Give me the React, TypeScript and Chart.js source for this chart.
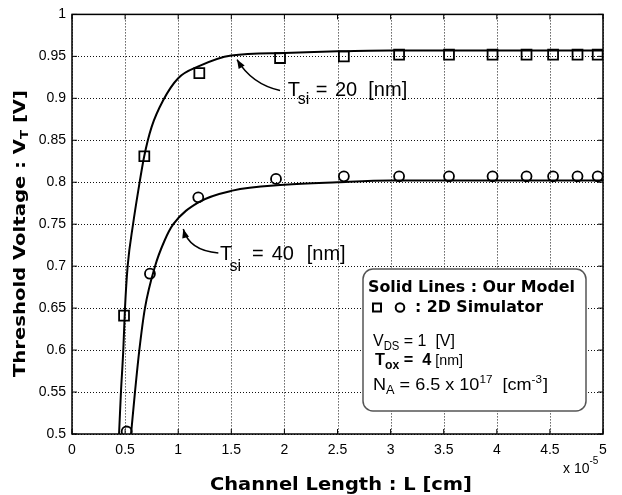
import React, { useEffect, useRef } from "react";
import { Chart, registerables } from "chart.js";
Chart.register(...registerables);

// ---- data ----
const xTicks = [0, 0.5, 1, 1.5, 2, 2.5, 3, 3.5, 4, 4.5, 5];
const yTicks = [0.5, 0.55, 0.6, 0.65, 0.7, 0.75, 0.8, 0.85, 0.9, 0.95, 1];

// Model curves (Solid lines : Our Model), L in 1e-5 cm
const modelL20 = [0.443, 0.461, 0.483, 0.499, 0.524, 0.575, 0.624, 0.68, 0.75, 0.86, 1.0, 1.19, 1.5, 2.0, 2.5, 3.0, 4.0, 5.0];
const modelVt20 = [0.5, 0.55, 0.6, 0.65, 0.7, 0.75, 0.79, 0.831, 0.866, 0.898, 0.924, 0.938, 0.951, 0.954, 0.956, 0.957, 0.957, 0.957];
const modelL40 = [0.556, 0.593, 0.634, 0.687, 0.782, 0.87, 0.954, 1.19, 1.51, 2.0, 2.5, 3.0, 4.0, 5.0];
const modelVt40 = [0.5, 0.55, 0.6, 0.65, 0.7, 0.73, 0.75, 0.776, 0.79, 0.797, 0.8, 0.802, 0.802, 0.802];

// 2D simulator points
const simL20 = [0.49, 0.681, 1.199, 1.959, 2.56, 3.08, 3.55, 3.96, 4.28, 4.53, 4.76, 4.95];
const simVt20 = [0.641, 0.831, 0.93, 0.948, 0.95, 0.952, 0.952, 0.952, 0.952, 0.952, 0.952, 0.952];
const simL40 = [0.515, 0.734, 1.189, 1.921, 2.56, 3.08, 3.55, 3.96, 4.28, 4.53, 4.76, 4.95];
const simVt40 = [0.503, 0.691, 0.782, 0.804, 0.807, 0.807, 0.807, 0.807, 0.807, 0.807, 0.807, 0.807];

const SANS = "'Liberation Sans', Arial, sans-serif";
const HEAVY = "'DejaVu Sans', sans-serif";

type Run = { t: string; f: string; dy?: number; dx?: number };

function runsWidth(ctx: CanvasRenderingContext2D, runs: Run[]) {
  let w = 0;
  for (const r of runs) {
    ctx.font = r.f;
    w += ctx.measureText(r.t).width + (r.dx || 0);
  }
  return w;
}

function drawRuns(ctx: CanvasRenderingContext2D, runs: Run[], x: number, y: number, fitWidth?: number) {
  const w = runsWidth(ctx, runs);
  const sx = fitWidth ? fitWidth / w : 1;
  ctx.save();
  ctx.translate(x, y);
  ctx.scale(sx, 1);
  let cx = 0;
  for (const r of runs) {
    ctx.font = r.f;
    cx += r.dx || 0;
    ctx.fillText(r.t, cx, r.dy || 0);
    cx += ctx.measureText(r.t).width;
  }
  ctx.restore();
}

function arrow(ctx: CanvasRenderingContext2D, sx: number, sy: number, cx: number, cy: number, ex: number, ey: number) {
  ctx.beginPath();
  ctx.moveTo(sx, sy);
  ctx.quadraticCurveTo(cx, cy, ex, ey);
  ctx.stroke();
  const a = Math.atan2(ey - cy, ex - cx);
  const L = 9, W = 3.5;
  const c = Math.cos(a), s = Math.sin(a);
  ctx.beginPath();
  ctx.moveTo(ex, ey);
  ctx.lineTo(ex - L * c + W * s, ey - L * s - W * c);
  ctx.lineTo(ex - L * c - W * s, ey - L * s + W * c);
  ctx.closePath();
  ctx.fill();
}

const gridPlugin = {
  id: "dotgrid",
  beforeDatasetsDraw(chart: any) {
    const ctx: CanvasRenderingContext2D = chart.ctx;
    const { left, right, top, bottom } = chart.chartArea;
    const xs = chart.scales.x;
    const ys = chart.scales.y;
    ctx.save();
    ctx.strokeStyle = "#111";
    ctx.lineWidth = 1;
    ctx.setLineDash([1, 2]);
    for (const v of xTicks) {
      const x = Math.round(xs.getPixelForValue(v)) + 0.5;
      ctx.beginPath();
      ctx.moveTo(x, top);
      ctx.lineTo(x, bottom);
      ctx.stroke();
    }
    for (const v of yTicks) {
      const y = Math.round(ys.getPixelForValue(v)) + 0.5;
      ctx.beginPath();
      ctx.moveTo(left, y);
      ctx.lineTo(right, y);
      ctx.stroke();
    }
    ctx.restore();
  },
};

const decorPlugin = {
  id: "decor",
  afterDraw(chart: any) {
    const ctx: CanvasRenderingContext2D = chart.ctx;
    const { left, right, top, bottom } = chart.chartArea;
    const xs = chart.scales.x;
    const ys = chart.scales.y;
    const px = (v: number) => xs.getPixelForValue(v);
    const py = (v: number) => ys.getPixelForValue(v);
    ctx.save();
    ctx.fillStyle = "#000";
    ctx.strokeStyle = "#000";

    // frame
    ctx.lineWidth = 1.5;
    ctx.strokeRect(left, top, right - left, bottom - top);
    // inward ticks
    ctx.lineWidth = 1;
    ctx.beginPath();
    for (const v of xTicks) {
      const x = px(v);
      ctx.moveTo(x, bottom); ctx.lineTo(x, bottom - 5);
      ctx.moveTo(x, top); ctx.lineTo(x, top + 5);
    }
    for (const v of yTicks) {
      const y = py(v);
      ctx.moveTo(left, y); ctx.lineTo(left + 5, y);
      ctx.moveTo(right, y); ctx.lineTo(right - 5, y);
    }
    ctx.stroke();

    // arrows
    ctx.lineWidth = 1.5;
    arrow(ctx, px(1.959), py(0.9094), px(1.692), py(0.917), px(1.554), py(0.9462));
    arrow(ctx, px(1.378), py(0.7158), px(1.103), py(0.7185), px(1.048), py(0.7443));

    // curve labels
    ctx.textBaseline = "alphabetic";
    ctx.textAlign = "left";
    const lab = (x: number, y: number, num: string, o: number[], subDy: number) => {
      ctx.font = `20px ${SANS}`;
      ctx.fillText("T", x, y);
      ctx.font = `16px ${SANS}`;
      ctx.fillText("si", x + o[0], y + subDy);
      ctx.font = `20px ${SANS}`;
      ctx.fillText("=", x + o[1], y);
      ctx.fillText(num, x + o[2], y);
      ctx.fillText("[nm]", x + o[3], y);
    };
    lab(px(2.031), py(0.9026), "20", [10, 28, 47.3, 80.6], 8);
    lab(px(1.394), py(0.7075), "40", [9.5, 32, 51.7, 86.7], 11);

    // legend box
    const bx = 363, by = 269, bw = 223, bh = 142;
    ctx.beginPath();
    (ctx as any).roundRect(bx, by, bw, bh, 10);
    ctx.fillStyle = "#fff";
    ctx.fill();
    ctx.lineWidth = 1.5;
    ctx.strokeStyle = "#555";
    ctx.stroke();
    ctx.fillStyle = "#000";
    ctx.strokeStyle = "#000";

    drawRuns(ctx, [{ t: "Solid Lines : Our Model", f: `bold 16px ${HEAVY}` }], 368, 292, 207);
    ctx.lineWidth = 2;
    ctx.strokeRect(373, 303.5, 8, 8);
    ctx.beginPath();
    ctx.arc(400, 307.5, 4.3, 0, Math.PI * 2);
    ctx.stroke();
    drawRuns(ctx, [{ t: ": 2D Simulator", f: `bold 16px ${HEAVY}` }], 415, 311.5, 128);

    drawRuns(ctx, [
      { t: "V", f: `17px ${SANS}` },
      { t: "DS", f: `12px ${SANS}`, dy: 4 },
      { t: " = 1  [V]", f: `17px ${SANS}` },
    ], 373, 346, 82);
    drawRuns(ctx, [
      { t: "T", f: `bold 16px ${SANS}` },
      { t: "ox", f: `bold 12px ${SANS}`, dy: 4 },
      { t: " =  4", f: `bold 16px ${SANS}` },
      { t: " [nm]", f: `14px ${SANS}` },
    ], 375, 365, 88);
    drawRuns(ctx, [
      { t: "N", f: `17px ${SANS}` },
      { t: "A", f: `12px ${SANS}`, dy: 4 },
      { t: " = 6.5 x 10", f: `17px ${SANS}` },
      { t: "17", f: `11px ${SANS}`, dy: -7 },
      { t: "  [cm", f: `17px ${SANS}` },
      { t: "-3", f: `11px ${SANS}`, dy: -7 },
      { t: "]", f: `17px ${SANS}`, dx: 1 },
    ], 373, 390, 175);

    // x axis title
    drawRuns(ctx, [{ t: "Channel Length : L [cm]", f: `bold 18px ${HEAVY}` }], 210, 490, 262);
    // exponent
    drawRuns(ctx, [
      { t: "x 10", f: `14px ${SANS}` },
      { t: "-5", f: `10px ${SANS}`, dy: -9 },
    ], 563, 473);

    // y axis title
    ctx.save();
    ctx.translate(25, 233.5);
    ctx.rotate(-Math.PI / 2);
    const yRuns: Run[] = [
      { t: "Threshold Voltage : V", f: `bold 16px ${HEAVY}` },
      { t: "T", f: `bold 11px ${HEAVY}`, dy: 3 },
      { t: " [V]", f: `bold 16px ${HEAVY}` },
    ];
    drawRuns(ctx, yRuns, -143.5, 0, 287);
    ctx.restore();

    ctx.restore();
  },
};

const fmt = (v: number) => String(parseFloat(Number(v).toFixed(2)));

export default function App() {
  const ref = useRef<HTMLCanvasElement>(null);
  useEffect(() => {
    if (!ref.current) return;
    const pts = (xs: number[], ys: number[]) => xs.map((x, i) => ({ x, y: ys[i] }));
    const chart = new Chart(ref.current, {
      type: "scatter",
      data: {
        datasets: [
          {
            label: "Model Tsi=20nm",
            data: pts(modelL20, modelVt20),
            showLine: true,
            borderColor: "#000",
            borderWidth: 2,
            pointRadius: 0,
            cubicInterpolationMode: "monotone",
          },
          {
            label: "Model Tsi=40nm",
            data: pts(modelL40, modelVt40),
            showLine: true,
            borderColor: "#000",
            borderWidth: 2,
            pointRadius: 0,
            cubicInterpolationMode: "monotone",
          },
          {
            label: "2D Simulator Tsi=20nm",
            data: pts(simL20, simVt20),
            showLine: false,
            pointStyle: "rect",
            pointRadius: 7,
            pointBorderWidth: 1.8,
            pointBorderColor: "#000",
            pointBackgroundColor: "rgba(0,0,0,0)",
          },
          {
            label: "2D Simulator Tsi=40nm",
            data: pts(simL40, simVt40),
            showLine: false,
            pointStyle: "circle",
            pointRadius: 5,
            pointBorderWidth: 1.8,
            pointBorderColor: "#000",
            pointBackgroundColor: "rgba(0,0,0,0)",
          },
        ] as any,
      },
      options: {
        animation: false,
        responsive: false,
        devicePixelRatio: 1,
        layout: { padding: { left: 0, top: 13, right: 19, bottom: 0 } },
        plugins: { legend: { display: false }, tooltip: { enabled: false } },
        scales: {
          x: {
            type: "linear",
            min: 0,
            max: 5,
            afterFit: (s: any) => { s.height = 61; },
            afterBuildTicks: (s: any) => { s.ticks = xTicks.map((v) => ({ value: v })); },
            ticks: {
              color: "#000",
              font: { family: SANS, size: 14 },
              padding: 8,
              maxRotation: 0,
              autoSkip: false,
              callback: (v: any) => fmt(v),
            },
            grid: { display: false, drawTicks: false },
            border: { display: false },
          },
          y: {
            type: "linear",
            min: 0.5,
            max: 1,
            afterFit: (s: any) => { s.width = 72; },
            afterBuildTicks: (s: any) => { s.ticks = yTicks.map((v) => ({ value: v })); },
            ticks: {
              color: "#000",
              font: { family: SANS, size: 14 },
              padding: 6,
              autoSkip: false,
              callback: (v: any) => fmt(v),
            },
            grid: { display: false, drawTicks: false },
            border: { display: false },
          },
        },
      } as any,
      plugins: [gridPlugin, decorPlugin],
    });
    return () => chart.destroy();
  }, []);
  return (
    <div style={{ position: "fixed", left: 0, top: 0, width: 622, height: 495, background: "#fff" }}>
      <canvas ref={ref} width={622} height={495} />
    </div>
  );
}
